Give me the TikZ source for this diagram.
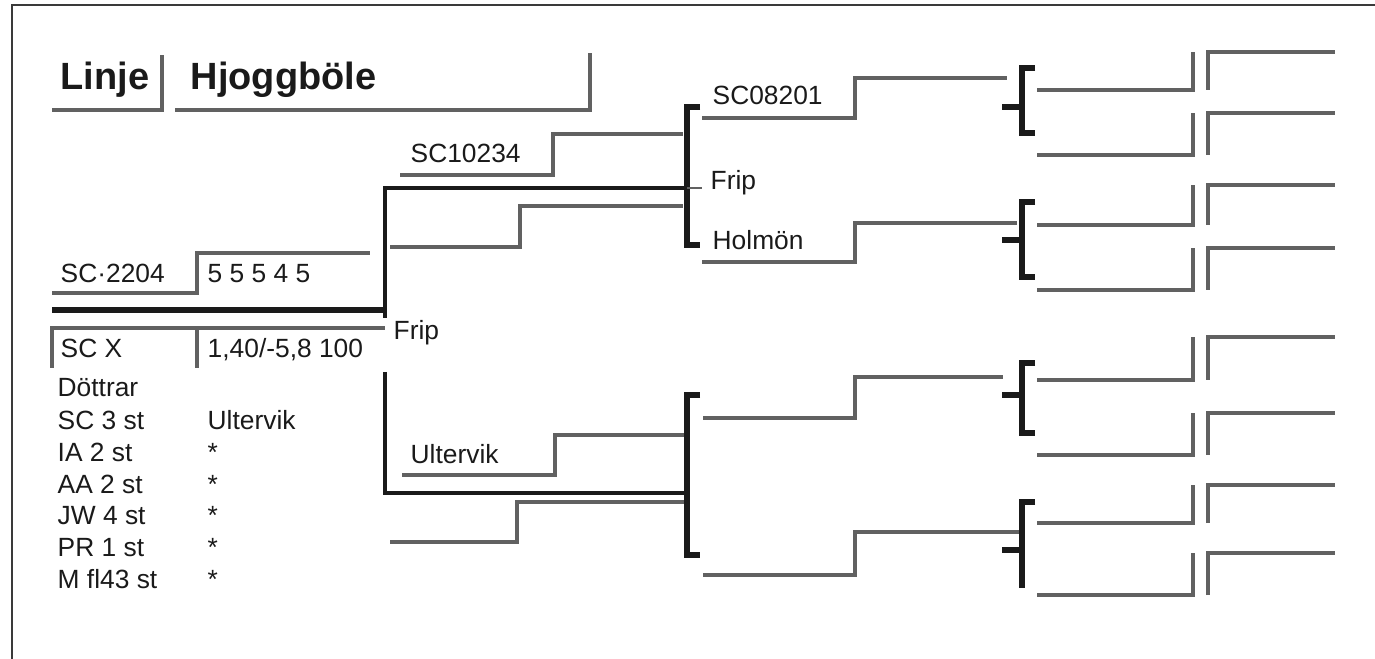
\documentclass[tikz,border=0pt]{standalone}
\usepackage{fontspec}
\setmainfont{Liberation Sans}
\definecolor{ink}{HTML}{1A1A1A}
\definecolor{rulegray}{HTML}{616161}
\definecolor{framegray}{HTML}{3A3A3A}
\tikzset{
  ruleln/.style  = {draw=rulegray, line width=1.3pt},
  heavy/.style   = {draw=ink, line width=1.4pt},
  bracket/.style = {draw=ink, line width=1.5pt},
  lbl/.style     = {anchor=base west, inner sep=0pt, text=ink,
                    font=\fontsize{7.5}{9}\selectfont},
  ttl/.style     = {anchor=base west, inner sep=0pt, text=ink,
                    font=\fontsize{10.8}{13}\selectfont\bfseries},
}

\begin{document}
\begin{tikzpicture}[x=1cm, y=-1cm]
  \useasboundingbox (0,0) rectangle (13.75,6.59);
  \draw[draw=framegray, line width=0.6pt] (13.75,0.05) -- (0.12,0.05) -- (0.12,6.59);

  % title boxes
  \node[ttl] (linje) at (0.60,0.90) {Linje};
  \node[ttl] (linjename) at (1.90,0.90) {Hjoggböle};
  \draw[ruleln] (0.52,1.10) -- (1.62,1.10) -- (1.62,0.55);
  \draw[ruleln] (1.75,1.10) -- (5.90,1.10) -- (5.90,0.53);

  % sire / dam block
  \node[lbl] (sire) at (0.60,2.83) {SC·2204};
  \node[lbl] (sirescore) at (2.07,2.83) {5 5 5 4 5};
  \draw[ruleln] (0.52,2.93) -- (1.97,2.93) -- (1.97,2.53) -- (3.70,2.53);
  \draw[heavy, line width=1.6pt] (0.52,3.10) -- (3.85,3.10);
  \draw[ruleln] (0.52,3.68) -- (0.52,3.28) -- (3.85,3.28);
  \draw[ruleln] (1.97,3.28) -- (1.97,3.68);
  \node[lbl] (dam) at (0.60,3.58) {SC X};
  \node[lbl] (damscore) at (2.07,3.58) {1,40/-5,8 100};
  \node[lbl] (frip) at (3.93,3.40) {Frip};

  % daughters
  \node[lbl] (dottrar) at (0.57,3.97) {Döttrar};
  \foreach \grp/\ort [count=\i from 0] in {SC 3 st/Ultervik, IA 2 st/*, AA 2 st/*,
      JW 4 st/*, PR 1 st/*, M fl43 st/*}{
    \node[lbl] (grp\i) at (0.57,{4.30+0.316*\i}) {\grp};
    \node[lbl] (ort\i) at (2.07,{4.30+0.316*\i}) {\ort};
  }

  % parents
  \draw[heavy] (6.85,1.88) -- (3.85,1.88) -- (3.85,3.18);
  \draw[heavy] (3.85,3.72) -- (3.85,4.93) -- (6.87,4.93);
  \node[lbl] (par1) at (4.10,1.63) {SC10234};
  \draw[ruleln] (4.00,1.75) -- (5.53,1.75) -- (5.53,1.34) -- (6.83,1.34);
  \draw[ruleln] (3.90,2.47) -- (5.20,2.47) -- (5.20,2.06) -- (6.83,2.06);
  \node[lbl] (par2) at (4.10,4.63) {Ultervik};
  \draw[ruleln] (4.02,4.75) -- (5.55,4.75) -- (5.55,4.35) -- (6.87,4.35);
  \draw[ruleln] (3.90,5.42) -- (5.17,5.42) -- (5.17,5.02) -- (6.87,5.02);

  % grandparents
  \draw[bracket] (7.00,1.07) -- (6.87,1.07) -- (6.87,2.45) -- (7.00,2.45);
  \draw[draw=rulegray, line width=0.6pt] (6.87,1.88) -- (7.02,1.88);
  \node[lbl] (frip2) at (7.10,1.90) {Frip};
  \draw[bracket] (7.00,3.95) -- (6.87,3.95) -- (6.87,5.55) -- (7.00,5.55);
  \node[lbl] (gp1) at (7.12,1.05) {SC08201};
  \node[lbl] (gp2) at (7.12,2.50) {Holmön};
  \draw[ruleln] (7.02,1.18) -- (8.55,1.18) -- (8.55,0.78) -- (10.07,0.78);
  \draw[ruleln] (7.02,2.62) -- (8.55,2.62) -- (8.55,2.23) -- (10.17,2.23);
  \draw[ruleln] (7.03,4.18) -- (8.55,4.18) -- (8.55,3.77) -- (10.03,3.77);
  \draw[ruleln] (7.03,5.75) -- (8.55,5.75) -- (8.55,5.32) -- (10.20,5.32);

  % great-grandparents
  \draw[bracket] (10.35,0.68) -- (10.22,0.68) -- (10.22,1.33) -- (10.35,1.33);
  \draw[bracket] (10.02,1.07) -- (10.22,1.07);
  \draw[bracket] (10.35,2.02) -- (10.22,2.02) -- (10.22,2.77) -- (10.35,2.77);
  \draw[bracket] (10.02,2.40) -- (10.22,2.40);
  \draw[bracket] (10.35,3.63) -- (10.22,3.63) -- (10.22,4.33) -- (10.35,4.33);
  \draw[bracket] (10.02,3.95) -- (10.22,3.95);
  \draw[bracket] (10.35,5.02) -- (10.22,5.02) -- (10.22,5.88);
  \draw[bracket] (10.02,5.50) -- (10.22,5.50);
  \foreach \lo/\hi in {0.90/0.52, 1.55/1.13, 2.25/1.85, 2.90/2.48,
      3.80/3.37, 4.55/4.13, 5.23/4.85, 5.95/5.53}{
    \draw[ruleln] (10.37,\lo) -- (11.93,\lo) -- (11.93,\hi);
    \draw[ruleln] (12.08,\lo) -- (12.08,\hi) -- (13.35,\hi);
  }
\end{tikzpicture}
\end{document}
